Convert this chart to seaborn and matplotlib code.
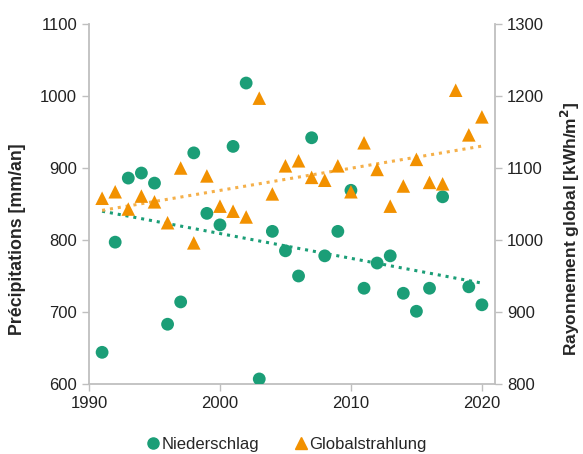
import numpy as np
import pandas as pd
import matplotlib
matplotlib.use("Agg")
import matplotlib.pyplot as plt
import seaborn as sns
from matplotlib.lines import Line2D

years = list(range(1991, 2021))
# 2018 precipitation lies below the axis minimum (clipped in the chart)
niederschlag = [644, 797, 886, 893, 879, 683, 714, 921, 837, 821,
                930, 1018, 607, 812, 785, 750, 942, 778, 812, 869,
                733, 768, 778, 726, 701, 733, 860, 580, 735, 710]
globalstrahlung = [1058, 1067, 1043, 1061, 1053, 1024, 1100, 996, 1089, 1047,
                   1040, 1032, 1197, 1064, 1103, 1110, 1087, 1083, 1103, 1067,
                   1135, 1098, 1047, 1075, 1112, 1080, 1078, 1208, 1146, 1171]
left_ticks = [600, 700, 800, 900, 1000, 1100]
right_ticks = [800, 900, 1000, 1100, 1200, 1300]
x_ticks = [1990, 2000, 2010, 2020]

df = pd.DataFrame({"Jahr": years, "Niederschlag": niederschlag,
                   "Globalstrahlung": globalstrahlung})

sns.set_theme(style="white")
plt.rcParams['font.family'] = ['Liberation Sans', 'DejaVu Sans']

green = "#1B9E77"
orange = "#F29100"
spine_c = "#BFBFBF"
fs = 12

fig = plt.figure(figsize=(5.83, 4.54), dpi=100)
ax = fig.add_axes([89/583, 1-384/454, (495-89)/583, (384-24)/454])
ax2 = ax.twinx()

sns.regplot(data=df, x="Jahr", y="Niederschlag", ax=ax, scatter=False, ci=None,
            color=green, line_kws=dict(linestyle=(0, (1, 1.6)), linewidth=2.2))
sns.scatterplot(data=df, x="Jahr", y="Niederschlag", ax=ax, color=green,
                marker="o", s=85, edgecolor="none", zorder=3)

sns.regplot(data=df, x="Jahr", y="Globalstrahlung", ax=ax2, scatter=False, ci=None,
            color="#F5B04A", line_kws=dict(linestyle=(0, (1, 1.6)), linewidth=2.2))
sns.scatterplot(data=df, x="Jahr", y="Globalstrahlung", ax=ax2, color=orange,
                marker="^", s=95, edgecolor="none", zorder=3)

ax.set_xlim(1990, 2021)
ax.set_ylim(600, 1100)
ax2.set_ylim(800, 1300)
ax.set_xticks(x_ticks)
ax.set_yticks(left_ticks)
ax2.set_yticks(right_ticks)

ax.set_xlabel("")
ax.set_ylabel("Précipitations [mm/an]", fontsize=12.8, fontweight="bold")
ax2.set_ylabel("Rayonnement global [kWh/m$^\\mathbf{2}$]", fontsize=12.5, fontweight="bold")
ax.yaxis.set_label_coords(-0.155, 0.403)
ax2.yaxis.set_label_coords(1.158, 0.43)

for a in (ax, ax2):
    a.spines["top"].set_visible(False)
    for s in ("left", "right", "bottom"):
        a.spines[s].set_color(spine_c)
        a.spines[s].set_linewidth(1.3)
    a.tick_params(axis="both", labelsize=fs, colors="#222222", length=5,
                  width=1.0, color=spine_c, direction="out")
ax.tick_params(axis="y", left=True, right=False)
ax.tick_params(axis="x", bottom=True)
ax2.tick_params(axis="y", right=True, left=False)
ax.spines["right"].set_visible(False)
ax2.spines["left"].set_visible(False)
ax2.spines["bottom"].set_visible(False)
ax.grid(False)
ax2.grid(False)

handles = [Line2D([], [], marker="o", linestyle="none", color=green, markersize=8),
           Line2D([], [], marker="^", linestyle="none", color=orange, markersize=8)]
fig.legend(handles, ["Niederschlag", "Globalstrahlung"], loc="center",
           bbox_to_anchor=(0.49, 1-444/454), ncol=2, frameon=False,
           fontsize=fs, handletextpad=0.0, columnspacing=2.0, handlelength=1.0)

fig.savefig("out.png", dpi=100)
